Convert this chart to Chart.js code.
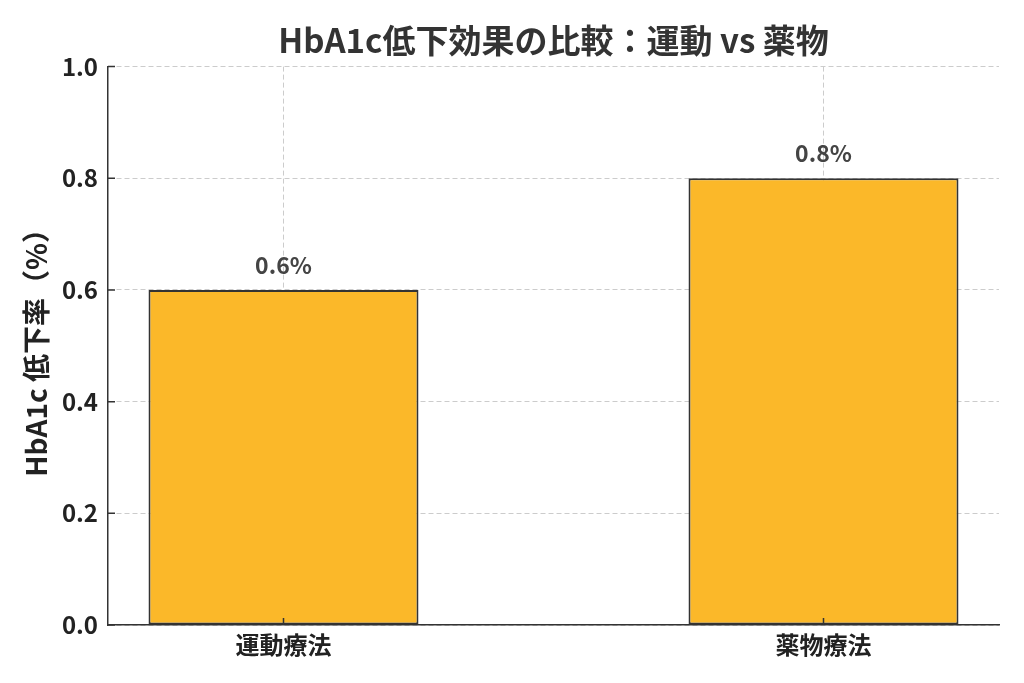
<!DOCTYPE html>
<html>
<head>
<meta charset="utf-8">
<script src="https://cdn.jsdelivr.net/npm/chart.js@4/dist/chart.umd.min.js"></script>
<style>
  html, body { margin: 0; padding: 0; background: #fff; }
  #wrap { width: 1024px; height: 683px; }
</style>
</head>
<body>
<div id="wrap"><canvas id="chart" width="1024" height="683"></canvas></div>
<script>
// データ
const categories = ['運動療法', '薬物療法'];
const reductions = [0.6, 0.8];
const yTicks = [0.0, 0.2, 0.4, 0.6, 0.8, 1.0];

const FONT = '"Noto Sans CJK JP", "Noto Sans", sans-serif';
const INK = '#333333';

// 棒の上に値を書く
const valueLabels = {
    id: 'valueLabels',
    afterDraw(chart) {
        const ctx = chart.ctx;
        const meta = chart.getDatasetMeta(0);
        ctx.save();
        ctx.font = 'bold 23px ' + FONT;
        ctx.fillStyle = '#444444';
        ctx.textAlign = 'center';
        ctx.textBaseline = 'middle';
        meta.data.forEach((bar, i) => {
            ctx.fillText(reductions[i] + '%', bar.x, bar.y - 25);
        });
        ctx.restore();
    }
};

// 内向きの目盛り
const innerTicks = {
    id: 'innerTicks',
    afterDraw(chart) {
        const ctx = chart.ctx;
        const x = chart.scales.x, y = chart.scales.y;
        ctx.save();
        ctx.strokeStyle = INK;
        ctx.lineWidth = 1.5;
        ctx.beginPath();
        y.ticks.forEach(t => {
            const py = y.getPixelForValue(t.value);
            ctx.moveTo(x.left, py);
            ctx.lineTo(x.left + 7, py);
        });
        x.ticks.forEach(t => {
            const px = x.getPixelForValue(t.value);
            ctx.moveTo(px, y.bottom);
            ctx.lineTo(px, y.bottom - 7);
        });
        ctx.stroke();
        ctx.restore();
    }
};

new Chart(document.getElementById('chart').getContext('2d'), {
    type: 'bar',
    data: {
        datasets: [{
            data: reductions.map((v, i) => ({ x: i, y: v })),
            backgroundColor: '#fbb829',
            borderColor: INK,
            borderWidth: 2,
            borderSkipped: false,
            categoryPercentage: 1,
            barPercentage: 0.5
        }]
    },
    options: {
        responsive: false,
        animation: false,
        layout: { padding: { left: 0, right: 25, top: 0, bottom: 0 } },
        scales: {
            x: {
                type: 'linear',
                min: -0.325,
                max: 1.325,
                offset: false,
                z: 1,
                afterBuildTicks: s => { s.ticks = categories.map((c, i) => ({ value: i })); },
                afterFit: s => { s.height = 58; },
                ticks: {
                    callback: v => categories[v],
                    font: { family: FONT, size: 24, weight: 'bold' },
                    color: '#222222',
                    padding: 5,
                    maxRotation: 0,
                    autoSkip: false
                },
                grid: {
                    offset: false,
                    color: '#cccccc',
                    lineWidth: 1,
                    drawTicks: false
                },
                border: { color: INK, width: 1.5, dash: [5, 3] }
            },
            y: {
                min: 0,
                max: 1,
                z: 1,
                afterBuildTicks: s => { s.ticks = yTicks.map(v => ({ value: v })); },
                afterFit: s => { s.width = 108; },
                ticks: {
                    callback: v => v.toFixed(1),
                    font: { family: FONT, size: 24, weight: 'bold' },
                    color: '#222222',
                    padding: 10
                },
                grid: {
                    color: '#cccccc',
                    lineWidth: 1,
                    drawTicks: false
                },
                border: { color: INK, width: 1.5, dash: [5, 3] },
                title: {
                    display: true,
                    text: 'HbA1c 低下率（%）',
                    font: { family: FONT, size: 28, weight: 'bold' },
                    color: '#222222',
                    padding: { top: 20, bottom: 0 }
                }
            }
        },
        plugins: {
            legend: { display: false },
            tooltip: { enabled: false },
            title: {
                display: true,
                fullSize: false,
                text: 'HbA1c低下効果の比較：運動 vs 薬物',
                font: { family: FONT, size: 33, weight: 'bold' },
                color: INK,
                padding: { top: 21, bottom: 6 }
            }
        }
    },
    plugins: [valueLabels, innerTicks]
});
</script>
</body>
</html>
